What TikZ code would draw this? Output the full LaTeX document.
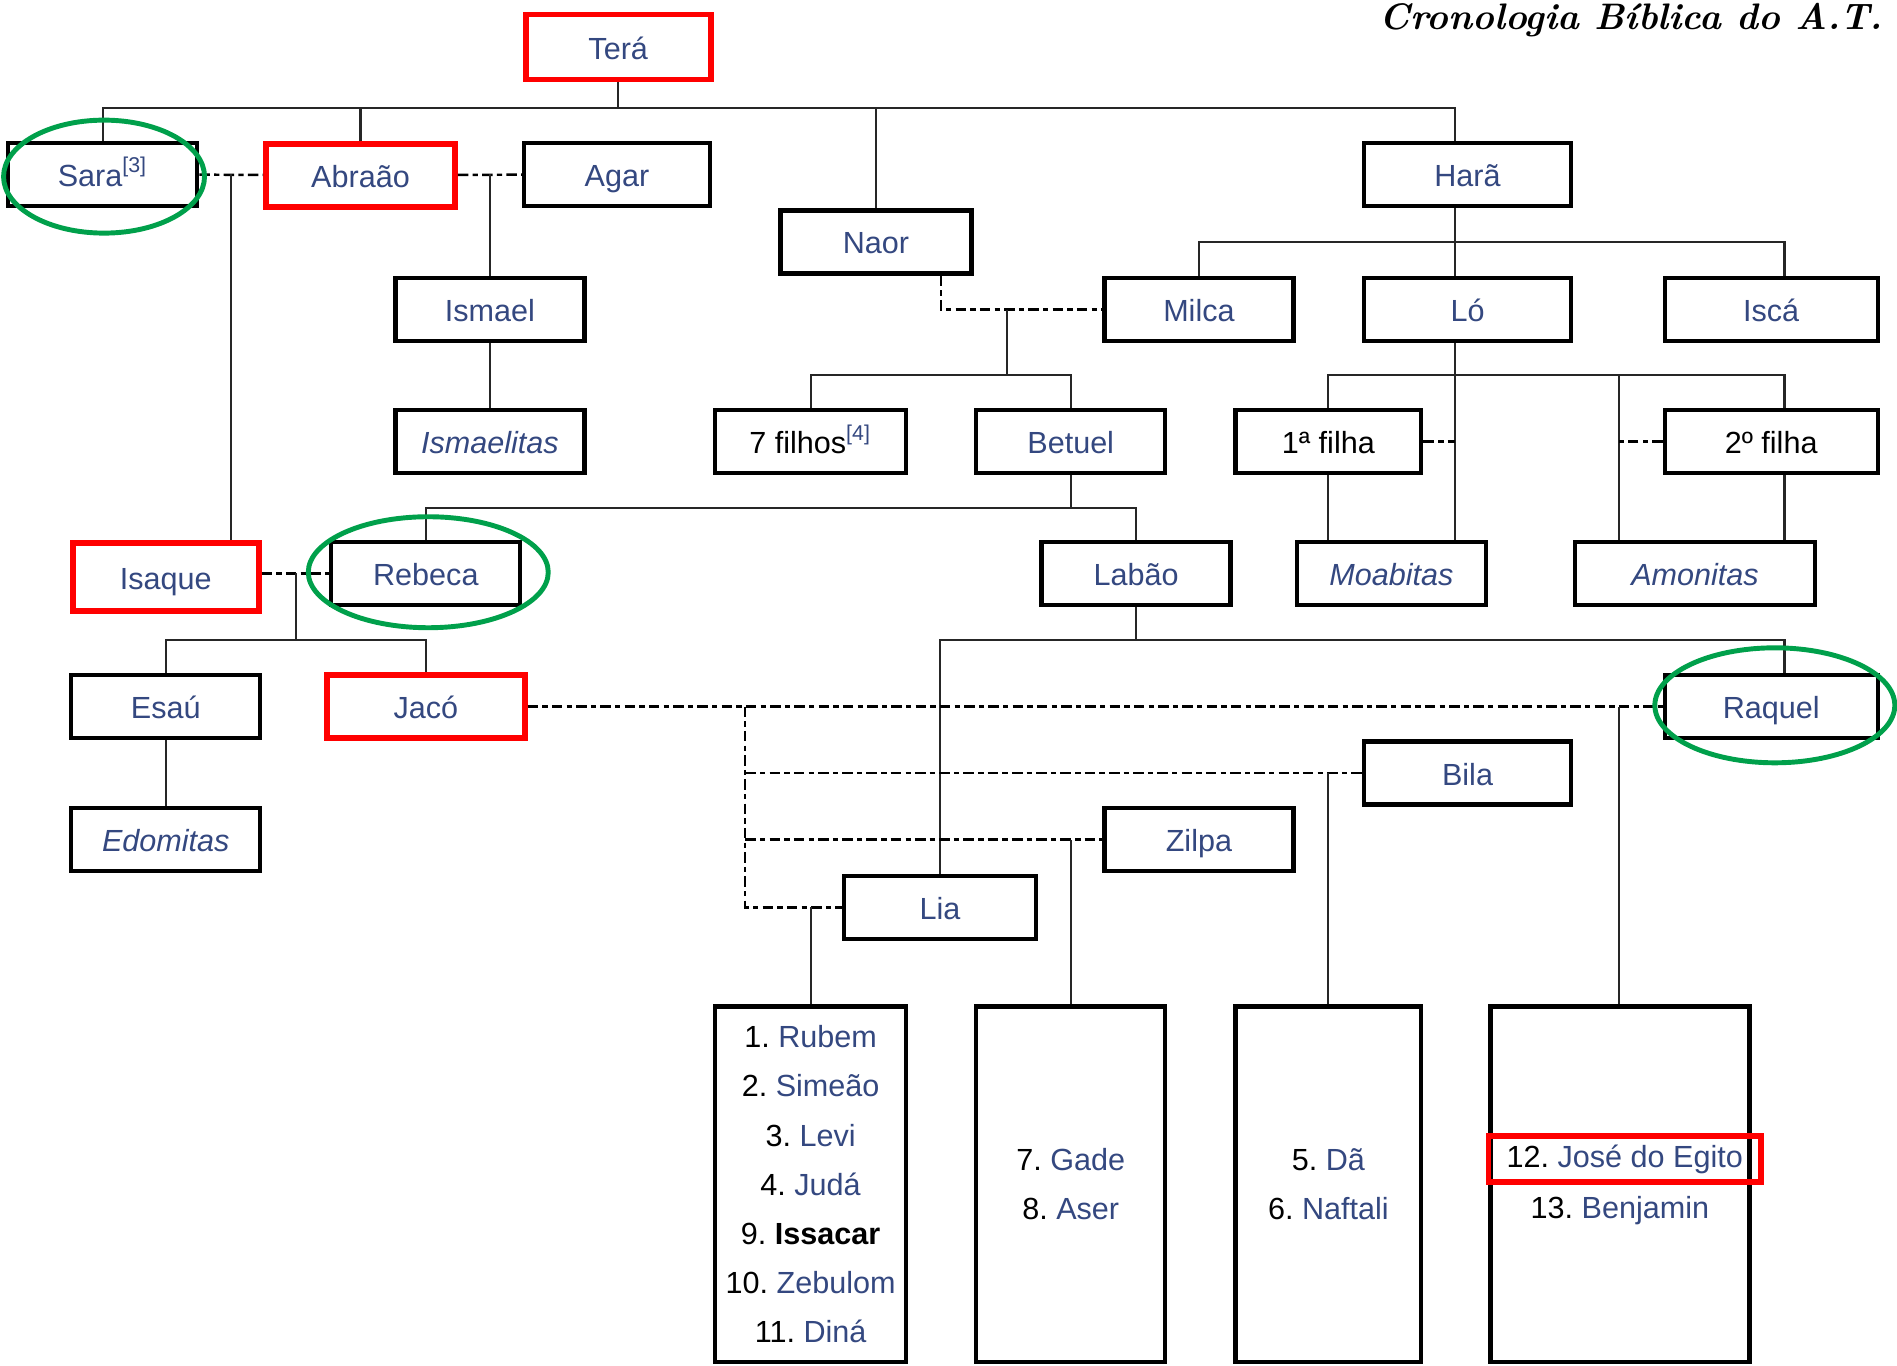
\documentclass[tikz,border=0pt]{standalone}
\usepackage{fontspec}
\setsansfont{Liberation Sans}
\usetikzlibrary{shapes.geometric}
\definecolor{linkblue}{RGB}{52,72,128}
\definecolor{ringgreen}{RGB}{0,160,75}
\newcommand{\kid}[2]{\textcolor{black}{#1.}~#2}
\begin{document}
\begin{tikzpicture}[x=0.0121cm,y=-0.0121cm,
  box/.style={draw,line width=1.2pt,fill=white,minimum width=1.89cm,minimum height=0.63cm,inner sep=0pt,font=\sffamily\fontsize{8.7}{14}\selectfont,text=linkblue},
  person/.style={box,text height=7.2pt,text depth=0.4pt},
  hilite/.style={person,draw=red,line width=1.6pt},
  kids/.style={box,minimum height=3.56cm,align=center},
  people/.style={font=\sffamily\fontsize{8.7}{14}\selectfont,text=linkblue,inner sep=0pt,text height=6.6pt,text depth=1.9pt},
  ring/.style={ellipse,draw=ringgreen,line width=1.4pt,inner sep=0pt},
  line/.style={draw,line width=0.6pt,black!85},
  marriage/.style={draw,line width=0.7pt,dash pattern=on 3pt off 1.2pt on 1.5pt off 1.2pt}]
  \useasboundingbox (0,0) rectangle (1568,1129);

  % columns where the lines run
  \coordinate (harcol) at (1203,0);
  \coordinate (iscol) at (1475,0);
  \coordinate (amcol) at (1338,0);
  \coordinate (naorcol) at (778,0);

  % generation of Terá
  \node[hilite,minimum width=1.85cm,minimum height=0.65cm] at (511,39) (tera) {Terá};
  \node[person] at (85,144) (sara) {Sara\textsuperscript{[3]}};
  \node[hilite] at (298,145) (abraao) {Abraão};
  \node[person,minimum width=1.86cm] at (510,144) (agar) {Agar};
  \node[person,minimum width=1.91cm] at (724,200) (naor) {Naor};
  \node[person,minimum width=2.07cm] at (1213,144) (hara) {Harã};

  \node[person] at (405,256) (ismael) {Ismael};
  \node[person] at (991,256) (milca) {Milca};
  \node[person,minimum width=2.07cm] at (1213,256) (lo) {Ló};
  \node[person,minimum width=2.13cm] at (1464,256) (isca) {Iscá};

  \node[person] at (405,365) (ismaelitas) {\itshape Ismaelitas};
  \node[person,minimum width=1.91cm,text=black] at (670,365) (setefilhos) {7 filhos\textsuperscript{\textcolor{linkblue}{[4]}}};
  \node[person] at (885,365) (betuel) {Betuel};
  \node[person,minimum width=1.86cm,text=black] at (1098,365) (filha1) {1ª filha};
  \node[person,minimum width=2.13cm,text=black] at (1464,365) (filha2) {2º filha};

  \node[hilite,minimum width=1.86cm,minimum height=0.68cm] at (137,477) (isaque) {Isaque};
  \node[person] at (352,474) (rebeca) {Rebeca};
  \node[person] at (939,474) (labao) {Labão};
  \node[person] at (1150,474) (moabitas) {\itshape Moabitas};
  \node[person,minimum width=2.40cm] at (1401,474) (amonitas) {\itshape Amonitas};

  \node[person] at (137,584) (esau) {Esaú};
  \node[hilite,minimum width=1.98cm] at (352,584) (jaco) {Jacó};
  \node[person,minimum width=2.13cm] at (1464,584) (raquel) {Raquel};
  \node[person,minimum width=2.07cm] at (1213,639) (bila) {Bila};
  \node[person] at (137,694) (edomitas) {\itshape Edomitas};
  \node[person] at (991,694) (zilpa) {Zilpa};
  \node[person,minimum width=1.92cm] at (777,750) (lia) {Lia};

  % sons of Jacó
  \node[kids,minimum width=1.91cm] at (670,979) (liakids) {\kid{1}{Rubem}\\\kid{2}{Simeão}\\\kid{3}{Levi}\\\kid{4}{Judá}\\\kid{9}{\textcolor{black}{\bfseries Issacar}}\\\kid{10}{Zebulom}\\\kid{11}{Diná}};
  \node[kids] at (885,979) (zilpakids) {\kid{7}{Gade}\\\kid{8}{Aser}};
  \node[kids,minimum width=1.86cm] at (1098,979) (bilakids) {\kid{5}{Dã}\\\kid{6}{Naftali}};
  \node[kids,minimum width=2.59cm] at (1339,979) (raquelkids) {};
  \node[people,draw=red,line width=1.6pt,minimum width=2.73cm,minimum height=0.46cm] at (1343,958) (jose) {\kid{12}{José do Egito}};
  \node[people] at (1339,1000) (benjamin) {\kid{13}{Benjamin}};

  % Terá
  \coordinate (terabus) at (511,89);
  \draw[line] (tera) -- (terabus);
  \draw[line] (sara.north) |- (terabus) -| (hara.north -| harcol);
  \draw[line] (abraao) -- (abraao |- terabus);
  \draw[line] (naor) -- (naor |- terabus);

  % Abraão
  \coordinate (saraab) at (191,144);
  \draw[marriage] (sara) -- (abraao);
  \draw[line] (saraab) -- (isaque.north -| saraab);
  \draw[marriage] (abraao) -- (agar);
  \draw[line] (ismael) -- (ismael |- agar);
  \draw[line] (ismael) -- (ismaelitas);

  % Naor
  \coordinate (naorkids) at (832,256);
  \coordinate (nmbus) at (832,310);
  \draw[marriage] (naor.south -| naorcol) |- (milca);
  \draw[line] (naorkids) -- (nmbus);
  \draw[line] (setefilhos) |- (nmbus) -| (betuel);

  % Harã
  \coordinate (harbus) at (1203,200);
  \draw[line] (hara.south -| harcol) -- (lo.north -| harcol);
  \draw[line] (milca) |- (harbus) -| (isca.north -| iscol);

  % Ló
  \coordinate (lobus) at (1203,310);
  \draw[line] (lo.south -| harcol) -- (moabitas.north -| harcol);
  \draw[line] (filha1) |- (lobus) -| (filha2.north -| iscol);
  \draw[line] (lobus -| amcol) -- (amonitas.north -| amcol);
  \draw[marriage] (filha1) -- (filha1 -| harcol);
  \draw[marriage] (filha2) -- (filha2 -| amcol);
  \draw[line] (filha1) -- (moabitas.north -| filha1);
  \draw[line] (filha2.south -| iscol) -- (amonitas.north -| iscol);

  % Betuel
  \coordinate (betbus) at (885,420);
  \draw[line] (betuel) -- (betbus);
  \draw[line] (rebeca) |- (betbus) -| (labao);

  % Isaque
  \coordinate (irkids) at (245,474);
  \coordinate (irbus) at (245,529);
  \draw[marriage] (isaque.east |- rebeca) -- (rebeca);
  \draw[line] (irkids) -- (irbus);
  \draw[line] (esau) |- (irbus) -| (jaco);
  \draw[line] (esau) -- (edomitas);

  % Labão
  \coordinate (labbus) at (939,529);
  \draw[line] (labao) -- (labbus);
  \draw[line] (lia) |- (labbus) -| (raquel.north -| iscol);

  % Jacó
  \coordinate (jacol) at (616,584);
  \draw[marriage] (jaco) -- (raquel);
  \draw[marriage] (jacol) |- (lia);
  \draw[marriage] (jacol |- bila) -- (bila);
  \draw[marriage] (jacol |- zilpa) -- (zilpa);
  \draw[line] (liakids) -- (liakids |- lia);
  \draw[line] (zilpakids) -- (zilpakids |- zilpa);
  \draw[line] (bilakids) -- (bilakids |- bila);
  \draw[line] (raquelkids.north -| amcol) -- (amcol |- raquel);

  % rings
  \node[ring,minimum width=2.01cm,minimum height=1.13cm] at (86,146) (sararing) {};
  \node[ring,minimum width=2.40cm,minimum height=1.11cm] at (354,473) (rebecaring) {};
  \node[ring,minimum width=2.40cm,minimum height=1.15cm] at (1467,583) (raquelring) {};

  % title
  \node[anchor=base west,inner sep=0pt,font=\rmfamily\itshape\bfseries\fontsize{10.5}{12}\selectfont] at (1140,24) (titulo) {Cronologia Bíblica do A.T.};
\end{tikzpicture}
\end{document}
